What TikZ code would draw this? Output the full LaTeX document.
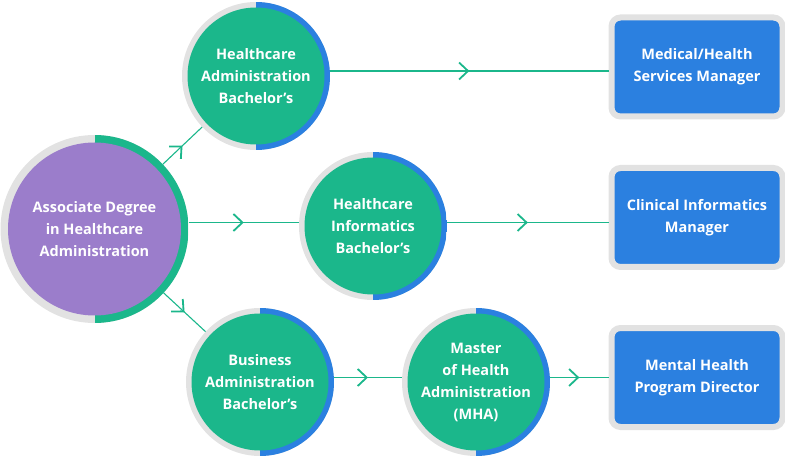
\documentclass[tikz,border=0pt]{standalone}
\usepackage{fontspec}
\setmainfont{Open Sans}
\usetikzlibrary{arrows.meta, decorations.markings}

\definecolor{degreegreen}{HTML}{1BB78B}
\definecolor{jobblue}{HTML}{2B80E0}
\definecolor{entrypurple}{HTML}{9B7DCB}
\definecolor{ringgray}{HTML}{E2E2E2}

\begin{document}
\begin{tikzpicture}[x=1pt, y=1pt,
    every node/.style={font=\bfseries\fontsize{14.5}{22}\selectfont, text=white, align=center},
    entry/.style={circle, inner sep=0pt, minimum size=188pt, fill=ringgray,
        path picture={\fill[degreegreen] (path picture bounding box.north) rectangle (path picture bounding box.south east);
                      \fill[entrypurple] (path picture bounding box.center) circle (86.5pt);}},
    degree/.style={circle, inner sep=0pt, minimum size=148pt, fill=ringgray,
        path picture={\fill[jobblue] (path picture bounding box.north) rectangle (path picture bounding box.south east);
                      \fill[degreegreen] (path picture bounding box.center) circle (68.5pt);}},
    job/.style={rectangle, rounded corners=9pt, draw=ringgray, line width=6pt, fill=jobblue,
        minimum width=171pt, minimum height=99pt},
    link/.style={degreegreen, line width=1.1pt, postaction={decorate},
        decoration={markings, mark=at position 0.5 with {\arrow{Straight Barb[length=9pt, width=17pt, line width=1.8pt]}}}}]
    \useasboundingbox (0,0) rectangle (785,-457);

    \node (assoc) [entry] at (94.5,-229) {Associate Degree\\in Healthcare\\Administration};
    \node (hab) [degree] at (256,-76) {Healthcare\\Administration\\Bachelor’s};
    \node (hib) [degree] at (373,-226) {Healthcare\\Informatics\\Bachelor’s};
    \node (bab) [degree] at (260,-382) {Business\\Administration\\Bachelor’s};
    \node (mha) [degree] at (476,-382) {Master\\of Health\\Administration\\(MHA)};
    \node (msm) [job] at (697,-67) {Medical/Health\\Services Manager};
    \node (cim) [job] at (697,-217.5) {Clinical Informatics\\Manager};
    \node (mhd) [job] at (697,-377.5) {Mental Health\\Program Director};

    % rows the straight links run along
    \coordinate (row1) at (0,-71);
    \coordinate (row2) at (0,-222.5);
    \coordinate (row3) at (0,-377.5);

    \draw[link] (assoc) -- (hab);
    \draw[link] (assoc) -- (bab);
    \draw[link] (assoc.east |- row2) -- (hib.west |- row2);
    \draw[link] (hab.east |- row1) -- (msm.west |- row1);
    \draw[link] (hib.east |- row2) -- (cim.west |- row2);
    \draw[link] (bab.east |- row3) -- (mha.west |- row3);
    \draw[link] (mha.east |- row3) -- (mhd.west |- row3);
\end{tikzpicture}
\end{document}
